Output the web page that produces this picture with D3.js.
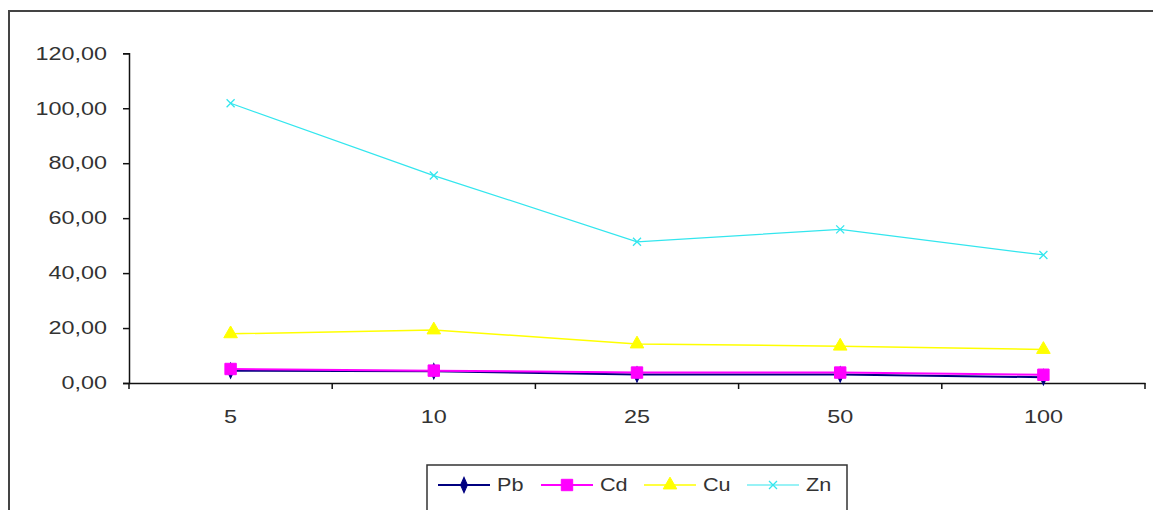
<!DOCTYPE html>
<html lang="en">
<head>
<meta charset="UTF-8">
<title>Pb Cd Cu Zn</title>
<script src="https://d3js.org/d3.v7.min.js"></script>
<style>
    body { margin: 0; background: #fff; }
    svg text { font-family: "Liberation Sans", Arial, sans-serif; font-size: 18px; fill: #333; }
</style>
</head>
<body>
<svg id="chart" width="1153" height="510"></svg>
<script>
// categories along the x axis
const categories = ["5", "10", "25", "50", "100"];
// series values
const pb = [4.5, 4.3, 3.1, 3.1, 2.1];
const cd = [5.1, 4.5, 3.8, 3.8, 3.0];
const cu = [17.9, 19.3, 14.2, 13.4, 12.2];
const zn = [101.8, 75.5, 51.4, 55.9, 46.6];
const seriesNames = ["Pb", "Cd", "Cu", "Zn"];
const yTicks = [0, 20, 40, 60, 80, 100, 120];

const series = [
    { name: "Pb", values: pb, color: "#000080", width: 2, symbol: d3.symbolDiamond, size: 40 },
    { name: "Cd", values: cd, color: "#ff00ff", width: 2, symbol: d3.symbolSquare, size: 130 },
    { name: "Cu", values: cu, color: "#ffff00", width: 1.5, symbol: d3.symbolTriangle, size: 80 },
    { name: "Zn", values: zn, color: "#33e6ee", width: 1.2, symbol: "x", size: 4 }
];

// the original text is wide, stretch it sideways around its anchor
function stretch(sel, k) {
    sel.each(function() {
        const t = d3.select(this);
        const tx = +t.attr("x") || 0, ty = +t.attr("y") || 0;
        t.attr("x", 0).attr("y", 0)
            .attr("transform", `translate(${tx},${ty}) scale(${k},1)`);
    });
}

const svg = d3.select("#chart");

// outer frame (right and bottom edges fall outside the picture)
svg.append("rect")
    .attr("x", 9).attr("y", 11)
    .attr("width", 1200).attr("height", 600)
    .attr("fill", "none").attr("stroke", "#444").attr("stroke-width", 2);

const x = d3.scaleBand().domain(categories).range([129, 1145]);
const y = d3.scaleLinear().domain([0, 120]).range([383, 53.3]);

// y axis
const yAxis = svg.append("g").attr("transform", "translate(129,0)")
    .call(d3.axisLeft(y).tickValues(yTicks).tickSize(6).tickPadding(16)
        .tickFormat(d => d3.format(".2f")(d).replace(".", ",")));
yAxis.attr("font-size", null).attr("font-family", null);
yAxis.select(".domain").attr("stroke", "#111").attr("stroke-width", 1.5);
yAxis.selectAll(".tick line").attr("stroke", "#111").attr("stroke-width", 1.5);
yAxis.selectAll("text").attr("fill", "#333");
stretch(yAxis.selectAll("text"), 1.3);

// x axis, ticks between categories
const xAxis = svg.append("g").attr("transform", "translate(0,383)")
    .call(d3.axisBottom(x).tickSize(0).tickPadding(27));
xAxis.attr("font-size", null).attr("font-family", null);
xAxis.select(".domain").attr("stroke", "#111").attr("stroke-width", 1.5);
xAxis.selectAll("text").attr("fill", "#333");
stretch(xAxis.selectAll("text"), 1.3);
const bounds = categories.map(c => x(c)).concat([x.range()[1]]);
xAxis.selectAll(".sep").data(bounds).enter().append("line")
    .attr("x1", d => d).attr("x2", d => d)
    .attr("y1", 0).attr("y2", 6)
    .attr("stroke", "#111").attr("stroke-width", 1.5);

const cx = c => x(c) + x.bandwidth() / 2;
const line = d3.line().x((d, i) => cx(categories[i])).y(d => y(d));

function drawMarker(g, s, px, py) {
    if (s.symbol === "x") {
        const r = s.size;
        g.append("path")
            .attr("d", `M${px - r},${py - r}L${px + r},${py + r}M${px - r},${py + r}L${px + r},${py - r}`)
            .attr("stroke", s.color).attr("stroke-width", 1.3).attr("fill", "none");
    } else {
        g.append("path")
            .attr("d", d3.symbol().type(s.symbol).size(s.size)())
            .attr("transform", `translate(${px},${py})` + (s.symbol === d3.symbolDiamond ? " scale(1,1.3)" : ""))
            .attr("fill", s.color).attr("stroke", s.color);
    }
}

series.forEach(s => {
    const g = svg.append("g");
    g.append("path").datum(s.values)
        .attr("d", line)
        .attr("fill", "none")
        .attr("stroke", s.color)
        .attr("stroke-width", s.width);
    s.values.forEach((v, i) => drawMarker(g, s, cx(categories[i]), y(v)));
});

// legend
const legend = svg.append("g");
legend.append("rect")
    .attr("x", 427).attr("y", 465)
    .attr("width", 420).attr("height", 80)
    .attr("fill", "#fff").attr("stroke", "#333").attr("stroke-width", 1.5);
const legendX = d3.scalePoint().domain(seriesNames).range([438, 747]);
series.forEach(s => {
    const lx = legendX(s.name);
    const ly = 485;
    legend.append("line")
        .attr("x1", lx).attr("x2", lx + 52)
        .attr("y1", ly).attr("y2", ly)
        .attr("stroke", s.color).attr("stroke-width", s.width);
    drawMarker(legend, s, lx + 26, ly);
    const t = legend.append("text")
        .attr("x", lx + 59).attr("y", ly + 6)
        .text(s.name);
    stretch(t, 1.2);
});
</script>
</body>
</html>
